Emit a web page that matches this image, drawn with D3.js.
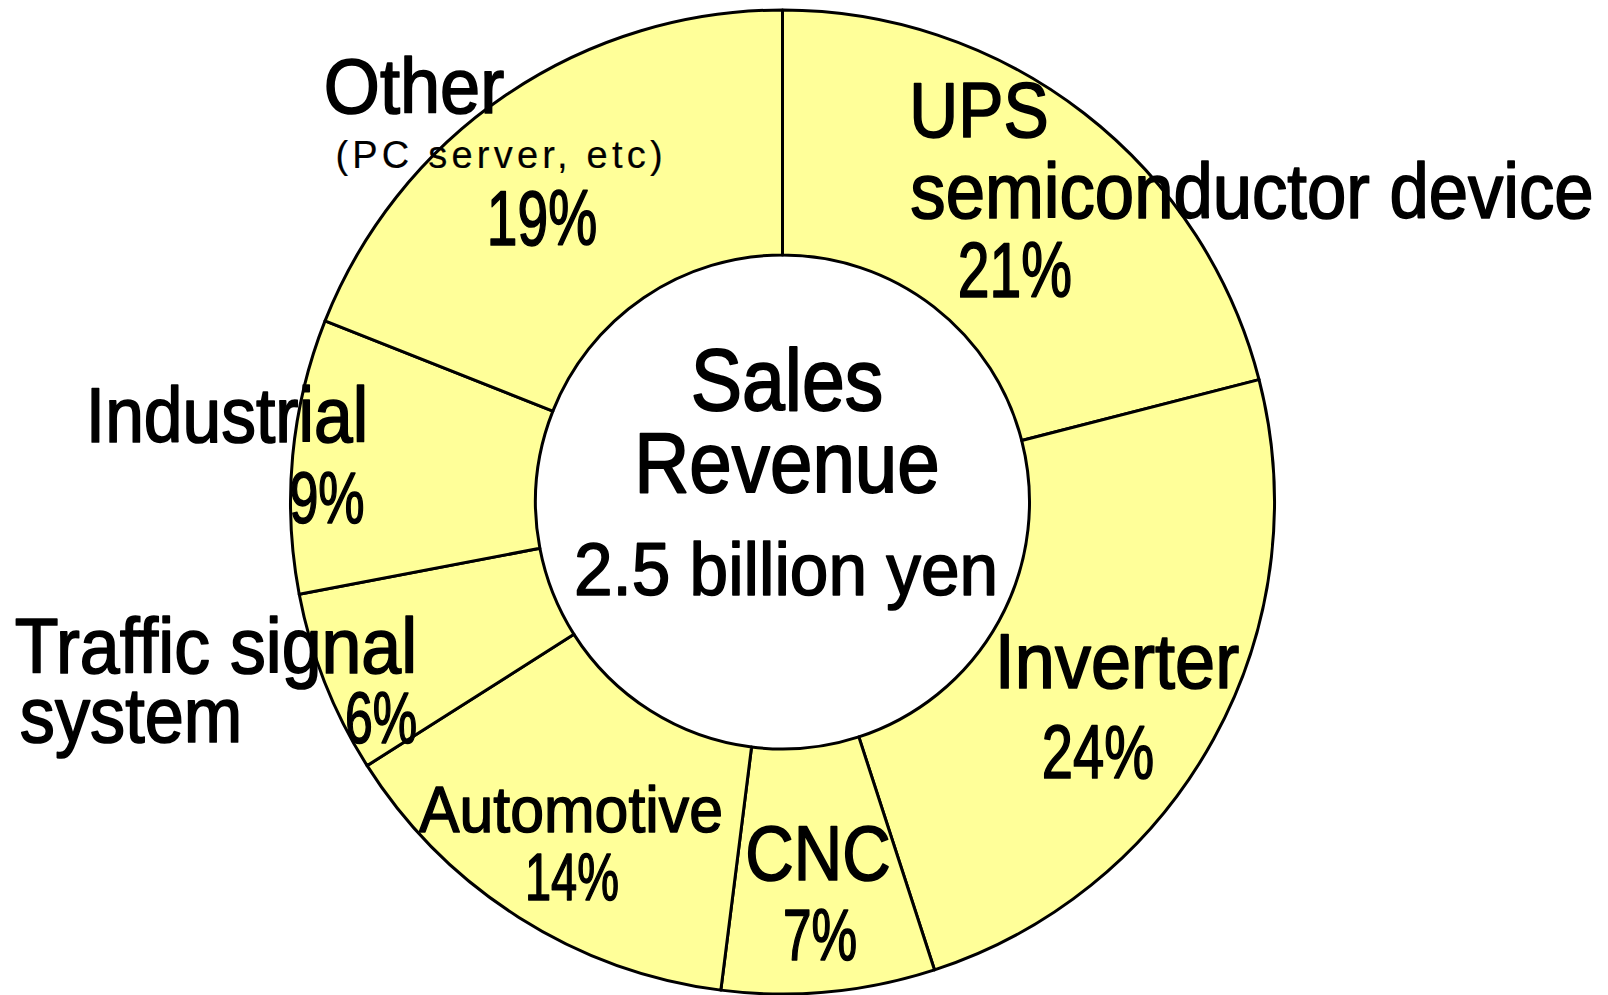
<!DOCTYPE html>
<html>
<head>
<meta charset="utf-8">
<script src="https://cdn.jsdelivr.net/npm/d3@7"></script>
<style>
  body { margin: 0; background: #fff; }
  text { font-family: "Liberation Sans", Arial, sans-serif; fill: #000; stroke: #000; stroke-linejoin: round; }
</style>
</head>
<body>
<div id="chart"></div>
<script>
// data
var categories = ["UPS semiconductor device", "Inverter", "CNC", "Automotive", "Traffic signal system", "Industrial", "Other"];
var shares = [21, 24, 7, 14, 6, 9, 19];
var nameLines = [
  ["UPS", "semiconductor device"],
  ["Inverter"],
  ["CNC"],
  ["Automotive"],
  ["Traffic signal", "system"],
  ["Industrial"],
  ["Other", "(PC server, etc)"]
];
var centerLines = ["Sales", "Revenue", "2.5 billion yen"];

var svgWidth = 1608;
var svgHeight = 995;

var cx = 782.5;
var cy = 502;
var outerR = 492;
var innerR = 247;

// where each text line sits: ink centre, baseline, font size, ink width
// (name lines first, then the percent line)
var labelLayout = [
  [[979, 137, 77, 137], [1252, 218, 77, 681], [1015, 297, 77, 112]],
  [[1117, 688, 77, 242], [1098, 778, 76, 110]],
  [[818, 880, 77, 143], [820, 960, 73, 72]],
  [[571, 832, 65, 302], [572, 900, 67, 92]],
  [[216, 673, 77, 400], [131, 742, 77, 220], [381, 743, 72, 70]],
  [[227, 442, 77, 280], [327, 523, 72, 73]],
  [[414, 113, 78, 178], [499, 168, 38, 326], [542, 245, 77, 108]]
];
var centerLayout = [[787, 410, 87, 190], [787, 492, 86, 303], [786, 595, 74, 422]];

var svg = d3.select("#chart")
  .append("svg")
  .attr("width", svgWidth)
  .attr("height", svgHeight);

var chartGroup = svg.append("g")
  .attr("transform", `translate(${cx}, ${cy})`);

var pie = d3.pie()
  .sort(null)
  .value(d => d);

var arc = d3.arc()
  .innerRadius(innerR)
  .outerRadius(outerR);

//slices
chartGroup.selectAll("path")
  .data(pie(shares))
  .enter()
  .append("path")
  .attr("d", arc)
  .attr("fill", "#ffff99")
  .attr("stroke", "#000")
  .attr("stroke-width", 3)
  .attr("stroke-linejoin", "round");

function addLine(t, pos) {
  // the small sub-label is spaced out rather than squeezed
  var small = pos[2] < 50;
  svg.append("text")
    .attr("x", pos[0])
    .attr("y", pos[1])
    .attr("font-size", pos[2])
    .attr("stroke-width", small ? 0.2 : pos[2] * 0.022)
    .attr("text-anchor", "middle")
    .attr("textLength", pos[3] + pos[2] * 0.03)
    .attr("lengthAdjust", small ? "spacing" : "spacingAndGlyphs")
    .text(t);
}

//slice labels
categories.forEach(function(c, i) {
  var lines = nameLines[i].concat([shares[i] + "%"]);
  lines.forEach(function(t, j) {
    addLine(t, labelLayout[i][j]);
  });
});

//centre text
centerLines.forEach(function(t, j) {
  addLine(t, centerLayout[j]);
});
</script>
</body>
</html>
